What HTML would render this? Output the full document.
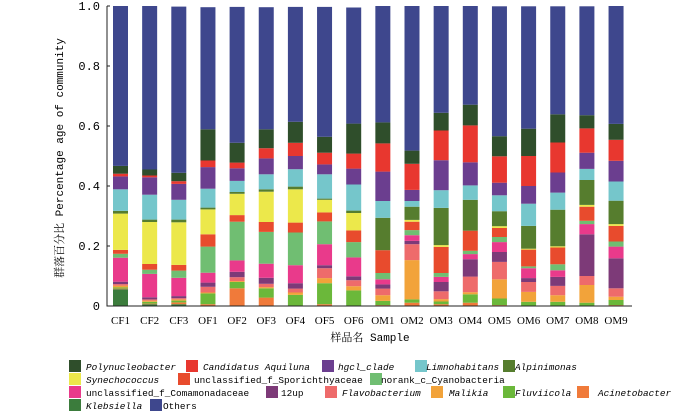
<!DOCTYPE html>
<html><head><meta charset="utf-8"><style>
body{margin:0;background:#fff;}
svg{display:block;font-family:"Liberation Mono","Noto Serif CJK SC",monospace;}
</style></head><body>
<svg id="chart" width="700" height="411" viewBox="0 0 700 411"></svg>
<script>
const samples=["CF1","CF2","CF3","OF1","OF2","OF3","OF4","OF5","OF6","OM1","OM2","OM3","OM4","OM5","OM6","OM7","OM8","OM9"];
const seriesNames=["Klebsiella","Acinetobacter","Fluviicola","Malikia","Flavobacterium","12up","unclassified_f_Comamonadaceae","norank_c_Cyanobacteria","unclassified_f_Sporichthyaceae","Synechococcus","Alpinimonas","Limnohabitans","hgcl_clade","Candidatus Aquiluna","Polynucleobacter","Others"];
const klebsiella=[.056,.006,.006,0,0,0,0,0,0,0,0,0,0,0,0,0,0,0];
const acinetobacter=[.002,.002,.006,.006,.059,.028,0,.006,0,.003,.011,.006,.011,.003,0,0,0,.003];
const fluviicola=[.004,.006,.006,.036,.021,.031,.037,.07,.052,.014,.011,.009,.028,.022,.014,.014,.011,.017];
const malikia=[.006,.004,.004,.003,.003,.004,.008,.017,.014,.019,.131,.008,.007,.064,.033,.022,.059,.011];
const flavobacterium=[.005,.004,.004,.019,.013,.011,.013,.033,.02,.022,.053,.026,.052,.058,.033,.031,.03,.028];
const up12=[.008,.007,.007,.014,.018,.02,.018,.01,.013,.014,.011,.031,.058,.033,.013,.03,.139,.1];
const comamonadaceae=[.08,.078,.061,.033,.038,.047,.06,.07,.063,.017,.019,.017,.017,.033,.033,.022,.034,.039];
const norankCyano=[.013,.014,.024,.087,.129,.106,.109,.076,.051,.021,.017,.013,.011,.017,.006,.02,.011,.017];
const sporichthyaceae=[.013,.019,.019,.041,.022,.033,.033,.03,.039,.076,.028,.087,.067,.03,.056,.056,.047,.052];
const synechococcus=[.121,.14,.142,.083,.071,.101,.111,.042,.058,0,.006,.006,0,.006,.003,.004,.006,.006];
const alpinimonas=[.009,.008,.009,.006,.006,.008,.009,.004,.008,.108,.044,.124,.103,.05,.076,.122,.083,.078];
const limnohabitans=[.072,.083,.066,.063,.037,.05,.058,.081,.087,.056,.019,.059,.048,.053,.074,.057,.037,.064];
const hgclClade=[.043,.058,.053,.072,.042,.053,.044,.033,.053,.098,.037,.1,.077,.042,.059,.067,.054,.069];
const candidatus=[.009,.006,.009,.022,.019,.034,.044,.039,.05,.094,.087,.099,.123,.088,.1,.1,.081,.07];
const polynucleobacter=[.026,.02,.028,.104,.066,.063,.07,.053,.1,.07,.044,.059,.069,.067,.091,.094,.044,.053];
const others=[.533,.545,.554,.407,.453,.407,.383,.433,.387,.388,.482,.358,.33,.433,.408,.36,.363,.393];
const yTicks=["0","0.2","0.4","0.6","0.8","1.0"];
const yTickVals=[0,.2,.4,.6,.8,1];

const allSeries=[klebsiella,acinetobacter,fluviicola,malikia,flavobacterium,up12,comamonadaceae,norankCyano,sporichthyaceae,synechococcus,alpinimonas,limnohabitans,hgclClade,candidatus,polynucleobacter,others];
const colors=["#3b7c3c","#f07a3a","#6bb83a","#f2a33a","#ee6b6b","#7d3a78","#e93a8b","#70be72","#e84b2d","#ece84b","#567d2e","#75c6cb","#6b3e8f","#e8372f","#2f4e2b","#3e478d"];
const NS="http://www.w3.org/2000/svg";
const svg=document.getElementById('chart');
const x0=107,yBase=306,yScale=300,step=29.15,bw=15,firstC=120.5;
const xPos=i=>firstC+i*step;
const yPos=v=>yBase-v*yScale;
function mk(tag,attrs,parent){const e=document.createElementNS(NS,tag);for(const k in attrs)e.setAttribute(k,attrs[k]);(parent||svg).appendChild(e);return e;}

samples.forEach((s,i)=>{
  let cum=0;
  const g=mk('g',{});
  
  
  allSeries.forEach((arr,k)=>{
    const v=arr[i];
    if(v<=0){return;}
    let top=Math.min(cum+v,1);
    const r=mk('rect',{x:xPos(i)-bw/2,y:yPos(top),width:bw,height:Math.max(0,yPos(cum)-yPos(top)),fill:colors[k]},g);
    
    
    cum=top;
  });
  const t=mk('text',{x:xPos(i),y:324,'text-anchor':'middle','font-size':'11','font-family':'"Liberation Serif",serif'});
  t.textContent=s;
  
  
});
const ax=mk('path',{d:`M${x0} ${yPos(1)} V${yBase} H632`,stroke:'#222',fill:'none','stroke-width':'1'});


yTickVals.forEach((v,i)=>{
  const tk=mk('line',{x1:x0,x2:x0+3,y1:yPos(v),y2:yPos(v),stroke:'#222'});
  
  
  const t=mk('text',{x:100,y:yPos(v)+4,'text-anchor':'end','font-size':'12'});
  t.textContent=yTicks[i];
  
  
});
const yl=mk('text',{x:0,y:0,'text-anchor':'middle','font-size':'11',transform:'translate(63,158) rotate(-90)'});
yl.textContent='群落百分比 Percentage age of community';


const xl=mk('text',{x:370,y:341,'text-anchor':'middle','font-size':'11'});
xl.textContent='样品名 Sample';



const legendItems=[
 [14,0,69,86,"Polynucleobacter",true],[13,0,186,203,"Candidatus Aquiluna",true],[12,0,322,338,"hgcl_clade",true],[11,0,415,426,"Limnohabitans",true],[10,0,503,515,"Alpinimonas",true],
 [9,1,69,86,"Synechococcus",true],[8,1,178,194,"unclassified_f_Sporichthyaceae",false],[7,1,370,381,"norank_c_Cyanobacteria",false],
 [6,2,69,86,"unclassified_f_Comamonadaceae",false],[5,2,266,281,"12up",false],[4,2,325,342,"Flavobacterium",true],[3,2,431,449,"Malikia",true],[2,2,503,515,"Fluviicola",true],[1,2,577,598,"Acinetobacter",true],
 [0,3,69,86,"Klebsiella",true],[15,3,150,163,"Others",false]];
const rowY=[366,379,392,405];
legendItems.forEach(it=>{
  const g=mk('g',{});
  
  
  mk('rect',{x:it[2],y:rowY[it[1]]-6,width:12,height:12,fill:colors[it[0]]},g);
  const t=mk('text',{x:it[3],y:rowY[it[1]]+4,'font-size':'9.4','font-style':it[5]?'italic':'normal'},g);
  t.textContent=it[4];
});
</script>
</body></html>
